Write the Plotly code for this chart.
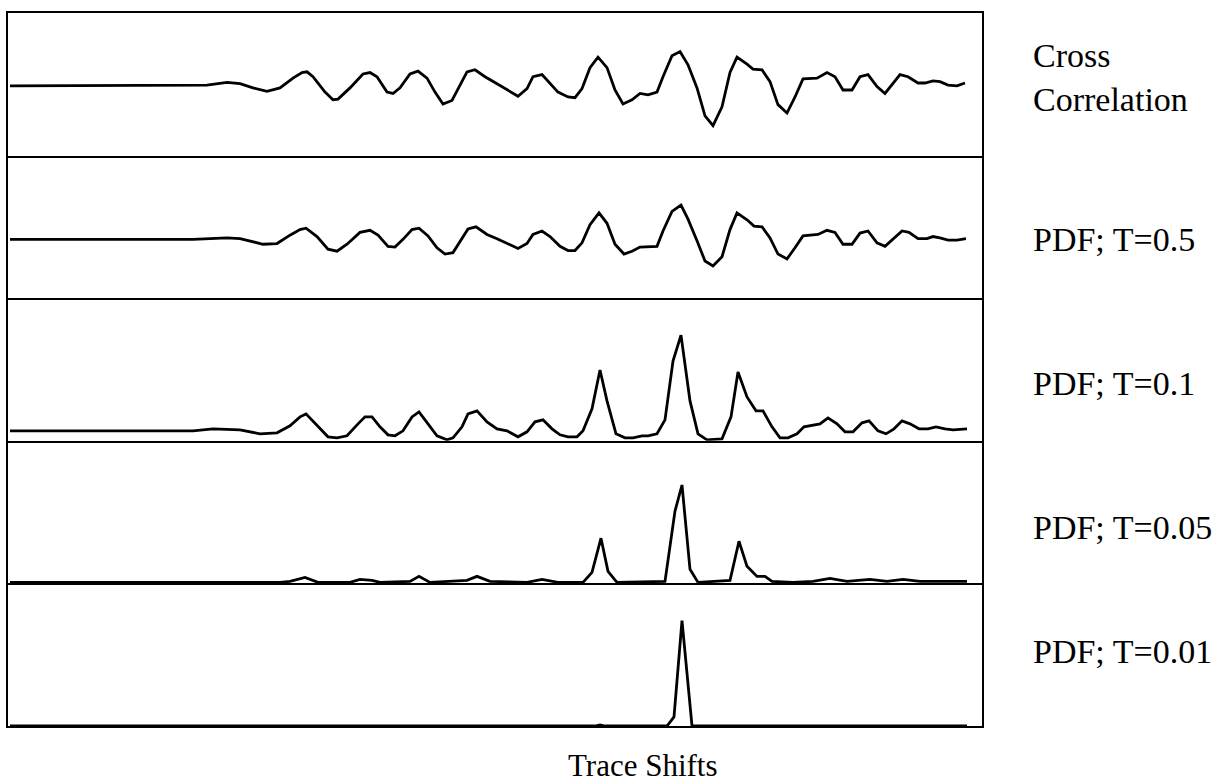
import plotly.graph_objects as go
from plotly.subplots import make_subplots

# ---- data (trace shift, value) ----
panel_labels = ["Cross<br>Correlation", "PDF; T=0.5", "PDF; T=0.1", "PDF; T=0.05", "PDF; T=0.01"]
x_title = "Trace Shifts"

cc_shift = [0, 18.3, 19.7, 21.7, 23.0, 24.3, 25.7, 27.0, 28.3, 29.2, 29.7, 30.3, 31.5, 32.3, 32.8,
            34.0, 35.3, 36.0, 36.7, 37.7, 38.3, 39.0, 40.0, 40.8, 41.7, 42.5, 43.3, 44.2, 45.0,
            45.7, 46.5, 47.5, 48.7, 49.7, 50.8, 51.7, 52.3, 53.2, 54.0, 54.8, 55.8, 56.5, 57.2,
            58.0, 58.8, 59.7, 60.5, 61.3, 62.2, 63.0, 63.8, 64.7, 65.3, 66.2, 67.0, 67.8, 68.7,
            69.5, 70.3, 71.2, 72.0, 72.7, 73.7, 74.3, 75.2, 76.0, 76.8, 77.7, 78.5, 79.3, 80.7,
            81.7, 82.5, 83.3, 84.2, 85.0, 85.8, 86.7, 87.5, 88.3, 89.0, 89.8, 90.8, 91.5, 92.3,
            93.0, 93.8, 94.7, 95.5]
cc_value = [0, 0, 0.01, 0.05, 0.03, -0.03, -0.08, -0.03, 0.11, 0.19, 0.20, 0.13, -0.09, -0.20, -0.19,
            -0.03, 0.17, 0.19, 0.13, -0.09, -0.11, -0.03, 0.17, 0.21, 0.11, -0.09, -0.26, -0.21, 0.01,
            0.20, 0.23, 0.13, 0.03, -0.06, -0.15, -0.04, 0.13, 0.16, 0.04, -0.09, -0.16, -0.17, -0.04,
            0.26, 0.41, 0.26, -0.06, -0.26, -0.20, -0.11, -0.13, -0.09, 0.13, 0.43, 0.49, 0.30, -0.03,
            -0.43, -0.57, -0.30, 0.19, 0.41, 0.31, 0.24, 0.23, 0.06, -0.27, -0.39, -0.16, 0.10, 0.11,
            0.19, 0.13, -0.06, -0.06, 0.13, 0.16, -0.01, -0.11, 0.04, 0.16, 0.13, 0.04, 0.04, 0.07,
            0.06, 0.01, 0.0, 0.04]

t05_shift = [0, 18.3, 21.7, 23.0, 25.3, 26.7, 28.0, 29.0, 29.6, 30.7, 31.8, 32.7, 33.7, 35.0, 36.0,
             36.8, 37.8, 38.5, 39.3, 40.2, 40.9, 41.8, 42.7, 43.5, 44.3, 45.2, 45.8, 46.6, 47.7,
             48.7, 49.7, 50.8, 51.7, 52.3, 53.2, 54.0, 55.0, 55.8, 56.5, 57.2, 58.0, 58.9, 59.7,
             60.5, 61.4, 62.2, 63.0, 63.8, 64.7, 65.3, 66.2, 67.1, 67.8, 68.7, 69.5, 70.3, 71.2,
             72.0, 72.7, 73.7, 74.4, 75.2, 76.0, 76.8, 77.7, 78.5, 79.3, 80.8, 81.7, 82.5, 83.3,
             84.2, 85.0, 85.8, 86.7, 87.5, 88.3, 89.2, 89.9, 90.8, 91.7, 92.3, 93.0, 93.8, 94.7, 95.6]
t05_value = [0, 0, 0.02, 0.01, -0.07, -0.06, 0.06, 0.14, 0.16, 0.04, -0.14, -0.17, -0.07, 0.10, 0.13,
             0.06, -0.10, -0.11, 0.0, 0.14, 0.16, 0.05, -0.12, -0.21, -0.19, 0.01, 0.15, 0.18, 0.07,
             0.01, -0.06, -0.13, -0.06, 0.07, 0.12, 0.04, -0.10, -0.16, -0.16, -0.05, 0.21, 0.38, 0.23,
             -0.07, -0.21, -0.17, -0.11, -0.11, -0.10, 0.12, 0.40, 0.49, 0.29, -0.02, -0.31, -0.38, -0.25,
             0.14, 0.38, 0.28, 0.19, 0.18, 0.02, -0.21, -0.28, -0.12, 0.05, 0.07, 0.13, 0.10, -0.07,
             -0.07, 0.09, 0.12, -0.05, -0.10, 0.01, 0.12, 0.10, 0.01, 0.01, 0.04, 0.02, -0.01, -0.01, 0.01]

t01_shift = [0, 18.3, 20.3, 23.0, 25.0, 26.7, 28.0, 29.0, 29.6, 30.7, 31.8, 32.7, 33.7, 34.8, 35.5,
             36.2, 37.0, 37.8, 38.5, 39.3, 40.2, 40.9, 41.8, 42.7, 43.7, 44.3, 45.2, 45.8, 46.7,
             47.7, 48.7, 49.7, 50.8, 51.7, 52.5, 53.3, 54.2, 55.0, 55.8, 56.7, 57.3, 58.2, 59.0,
             59.7, 60.6, 61.5, 62.3, 63.2, 63.8, 64.7, 65.5, 66.3, 67.1, 68.0, 68.8, 69.7, 71.2,
             72.1, 72.8, 73.7, 74.6, 75.3, 76.2, 77.0, 77.8, 78.7, 79.4, 81.0, 81.8, 82.7, 83.5,
             84.3, 85.2, 85.9, 86.8, 87.6, 88.4, 89.2, 90.0, 90.9, 91.8, 92.6, 93.5, 94.3, 95.7]
t01_value = [0.09, 0.09, 0.11, 0.10, 0.06, 0.07, 0.14, 0.23, 0.26, 0.14, 0.03, 0.02, 0.04, 0.16, 0.23,
             0.23, 0.13, 0.05, 0.04, 0.09, 0.23, 0.28, 0.16, 0.04, 0.0, 0.02, 0.13, 0.26, 0.29,
             0.18, 0.11, 0.09, 0.03, 0.08, 0.18, 0.20, 0.11, 0.05, 0.03, 0.03, 0.09, 0.31, 0.70,
             0.39, 0.06, 0.02, 0.02, 0.04, 0.04, 0.06, 0.20, 0.79, 1.05, 0.39, 0.06, 0.0, 0.01,
             0.23, 0.68, 0.43, 0.29, 0.29, 0.13, 0.02, 0.02, 0.06, 0.13, 0.16, 0.22, 0.16, 0.08,
             0.08, 0.17, 0.19, 0.09, 0.06, 0.11, 0.19, 0.16, 0.11, 0.11, 0.13, 0.11, 0.10, 0.11]

t005_shift = [0, 27.0, 28.0, 29.5, 30.8, 34.0, 35.0, 36.2, 37.0, 40.0, 40.9, 42.0, 45.7, 46.7, 48.0,
              51.7, 53.2, 54.8, 57.3, 58.2, 59.1, 59.8, 60.7, 65.5, 66.5, 67.2, 68.0, 68.8, 72.0,
              72.9, 73.7, 74.7, 75.5, 76.2, 78.3, 80.3, 82.0, 83.7, 86.0, 87.7, 89.3, 91.0, 95.7]
t005_value = [0.01, 0.01, 0.02, 0.06, 0.01, 0.01, 0.04, 0.03, 0.01, 0.02, 0.07, 0.01, 0.03, 0.07, 0.02,
              0.01, 0.04, 0.01, 0.01, 0.11, 0.45, 0.12, 0.01, 0.02, 0.72, 0.98, 0.14, 0.01, 0.03,
              0.42, 0.17, 0.07, 0.07, 0.02, 0.01, 0.02, 0.05, 0.02, 0.04, 0.02, 0.04, 0.02, 0.02]

t001_shift = [0, 58.5, 59.0, 59.5, 65.7, 66.4, 67.2, 68.2, 95.7]
t001_value = [0, 0, 0.01, 0, 0, 0.09, 1.05, 0, 0]

series_shift = [cc_shift, t05_shift, t01_shift, t005_shift, t001_shift]
series_value = [cc_value, t05_value, t01_value, t005_value, t001_value]
y_ranges = [[-1.0, 1.043], [-0.843, 1.2], [-0.01, 1.42], [0, 1.42], [0, 1.42]]
x_range = [-0.2, 97.2]

# ---- figure ----
fig = make_subplots(rows=5, cols=1, shared_xaxes=True, vertical_spacing=0)
for i in range(5):
    fig.add_trace(go.Scatter(x=series_shift[i], y=series_value[i], mode="lines",
                             line=dict(color="black", width=2.8), showlegend=False,
                             hoverinfo="skip"), row=i + 1, col=1)
    fig.update_yaxes(range=y_ranges[i], row=i + 1, col=1)

# bottom line for every panel (single separators), top line only on the first panel
fig.update_xaxes(range=x_range, showline=True, mirror=False, linecolor="black", linewidth=2,
                 showticklabels=False, showgrid=False, zeroline=False, ticks="")
fig.update_xaxes(mirror=True, row=1, col=1)
fig.update_yaxes(showline=True, mirror=True, linecolor="black", linewidth=2,
                 showticklabels=False, showgrid=False, zeroline=False, ticks="")

FONT = dict(family="Liberation Serif, Times New Roman, serif", size=34, color="black")
W, H = 1229, 783
L, R, T, B = 8, 247, 13, 57
pw, ph = W - L - R, H - T - B


def px_to_paper(xp, yp):
    return (xp - L) / pw, (H - B - yp) / ph


for txt, yp in zip(panel_labels, [77, 240, 383, 527, 651]):
    xx, yy = px_to_paper(1031, yp)
    fig.add_annotation(text=txt, x=xx, y=yy, xref="paper", yref="paper", xanchor="left",
                       yanchor="middle", align="left", showarrow=False, font=FONT)

xx, yy = px_to_paper(643, 765)
fig.add_annotation(text=x_title, x=xx, y=yy, xref="paper", yref="paper", xanchor="center",
                   yanchor="middle", showarrow=False, font=dict(FONT, size=31))

fig.update_layout(width=W, height=H, margin=dict(l=L, r=R, t=T, b=B),
                  paper_bgcolor="white", plot_bgcolor="white")
fig.write_html("out.html")
